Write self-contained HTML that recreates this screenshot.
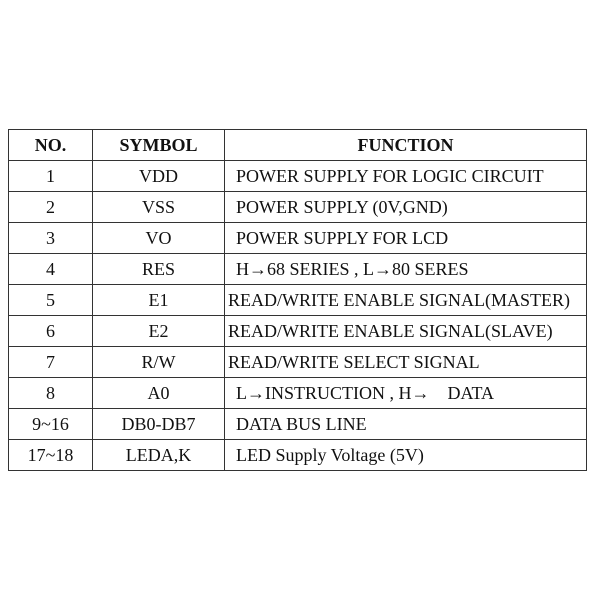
<!DOCTYPE html>
<html><head><style>
body{margin:0;width:600px;height:600px;background:#fff;position:relative;font-family:"Liberation Serif","Times New Roman",Times,"DejaVu Serif",serif;color:#111}
table{position:absolute;left:8px;top:129px;border-collapse:collapse;table-layout:fixed;width:578px}
tr{height:31px}
td,th{border:1.3px solid #333;padding:0;text-align:center;font-family:"Liberation Serif","Times New Roman",Times,"DejaVu Serif",serif;font-size:18px;line-height:20px;white-space:nowrap}
th{font-weight:bold}
td.f{text-align:left;padding-left:11px}
td.g{text-align:left;padding-left:3px}
</style></head><body>
<table>
<colgroup><col style="width:84px"><col style="width:132px"><col style="width:362px"></colgroup>
<tr><th>NO.</th><th>SYMBOL</th><th>FUNCTION</th></tr>
<tr><td>1</td><td>VDD</td><td class="f">POWER SUPPLY FOR LOGIC CIRCUIT</td></tr>
<tr><td>2</td><td>VSS</td><td class="f">POWER SUPPLY (0V,GND)</td></tr>
<tr><td>3</td><td>VO</td><td class="f">POWER SUPPLY FOR LCD</td></tr>
<tr><td>4</td><td>RES</td><td class="f">H→68 SERIES , L→80 SERES</td></tr>
<tr><td>5</td><td>E1</td><td class="g">READ/WRITE ENABLE SIGNAL(MASTER)</td></tr>
<tr><td>6</td><td>E2</td><td class="g">READ/WRITE ENABLE SIGNAL(SLAVE)</td></tr>
<tr><td>7</td><td>R/W</td><td class="g">READ/WRITE SELECT SIGNAL</td></tr>
<tr><td>8</td><td>A0</td><td class="f">L→INSTRUCTION , H→&nbsp;&nbsp;&nbsp; DATA</td></tr>
<tr><td>9~16</td><td>DB0-DB7</td><td class="f">DATA BUS LINE</td></tr>
<tr><td>17~18</td><td>LEDA,K</td><td class="f">LED Supply Voltage (5V)</td></tr>
</table>
</body></html>
